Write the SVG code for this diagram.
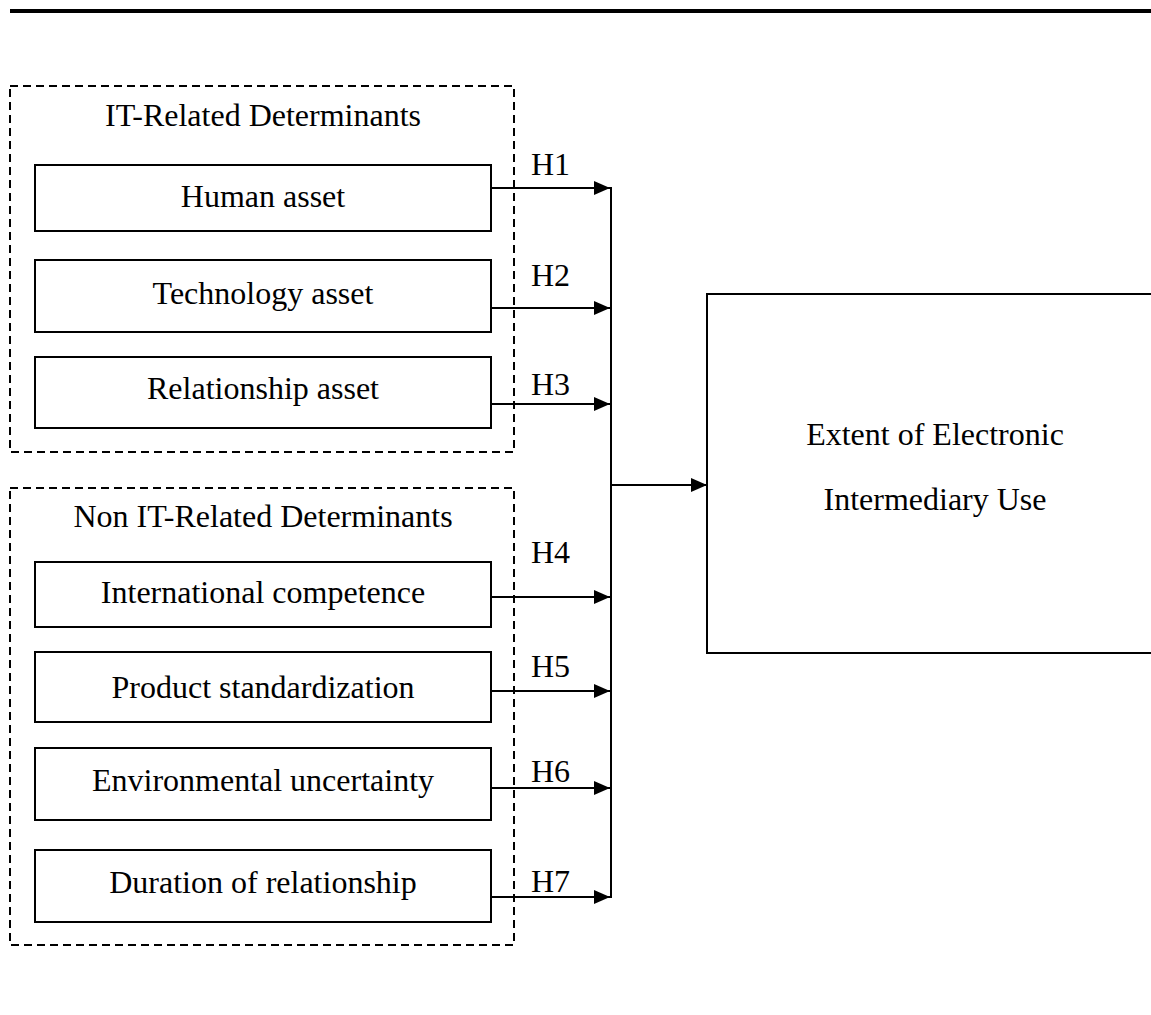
<svg xmlns="http://www.w3.org/2000/svg" width="1151" height="1015" viewBox="0 0 1151 1015">
  <style>
    .box { fill: #fff; stroke: #000; stroke-width: 2; }
    .group { fill: none; stroke: #000; stroke-width: 2; stroke-dasharray: 8 5; }
    .lbl { font-family: "Liberation Serif", "Times New Roman", serif; font-size: 32px; fill: #000; }
    .mid { text-anchor: middle; }
    .wire { fill: none; stroke: #000; stroke-width: 2; }
  </style>
  <defs>
    <marker id="arrow" markerWidth="16" markerHeight="14" refX="16" refY="7" orient="auto" markerUnits="userSpaceOnUse">
      <path d="M0,0 L16,7 L0,14 Z" fill="#000"/>
    </marker>
  </defs>
  <rect width="1151" height="1015" fill="#fff"/>

  <!-- header rule -->
  <rect x="10" y="9" width="1141" height="4" fill="#000"/>

  <!-- determinant groups -->
  <g id="it-group">
    <rect class="group" x="10" y="86" width="504" height="366"/>
    <text class="lbl mid" x="263" y="126">IT-Related Determinants</text>
  </g>
  <g id="nonit-group">
    <rect class="group" x="10" y="488" width="504" height="457"/>
    <text class="lbl mid" x="263" y="527">Non IT-Related Determinants</text>
  </g>

  <g id="human-asset">
    <rect class="box" x="35" y="165" width="456" height="66"/>
    <text class="lbl mid" x="263" y="207">Human asset</text>
  </g>
  <g id="technology-asset">
    <rect class="box" x="35" y="260" width="456" height="72"/>
    <text class="lbl mid" x="263" y="304">Technology asset</text>
  </g>
  <g id="relationship-asset">
    <rect class="box" x="35" y="357" width="456" height="71"/>
    <text class="lbl mid" x="263" y="399">Relationship asset</text>
  </g>
  <g id="international-competence">
    <rect class="box" x="35" y="562" width="456" height="65"/>
    <text class="lbl mid" x="263" y="603">International competence</text>
  </g>
  <g id="product-standardization">
    <rect class="box" x="35" y="652" width="456" height="70"/>
    <text class="lbl mid" x="263" y="698">Product standardization</text>
  </g>
  <g id="environmental-uncertainty">
    <rect class="box" x="35" y="748" width="456" height="72"/>
    <text class="lbl mid" x="263" y="791">Environmental uncertainty</text>
  </g>
  <g id="duration-of-relationship">
    <rect class="box" x="35" y="850" width="456" height="72"/>
    <text class="lbl mid" x="263" y="893">Duration of relationship</text>
  </g>

  <g id="electronic-intermediary-use">
    <rect class="box" x="707" y="294" width="460" height="359"/>
    <text class="lbl mid" x="935" y="445">Extent of Electronic</text>
    <text class="lbl mid" x="935" y="510">Intermediary Use</text>
  </g>

  <!-- hypothesis paths -->
  <g id="connectors">
    <line class="wire" x1="491" y1="188" x2="610" y2="188" marker-end="url(#arrow)"/>
    <line class="wire" x1="491" y1="308" x2="610" y2="308" marker-end="url(#arrow)"/>
    <line class="wire" x1="491" y1="404" x2="610" y2="404" marker-end="url(#arrow)"/>
    <line class="wire" x1="491" y1="597" x2="610" y2="597" marker-end="url(#arrow)"/>
    <line class="wire" x1="491" y1="691" x2="610" y2="691" marker-end="url(#arrow)"/>
    <line class="wire" x1="491" y1="788" x2="610" y2="788" marker-end="url(#arrow)"/>
    <line class="wire" x1="491" y1="897" x2="610" y2="897" marker-end="url(#arrow)"/>
    <line class="wire" x1="611" y1="187" x2="611" y2="898"/>
    <line class="wire" x1="611" y1="485" x2="707" y2="485" marker-end="url(#arrow)"/>
    <text class="lbl" x="531" y="175">H1</text>
    <text class="lbl" x="531" y="286">H2</text>
    <text class="lbl" x="531" y="395">H3</text>
    <text class="lbl" x="531" y="563">H4</text>
    <text class="lbl" x="531" y="677">H5</text>
    <text class="lbl" x="531" y="782">H6</text>
    <text class="lbl" x="531" y="892">H7</text>
  </g>
</svg>
